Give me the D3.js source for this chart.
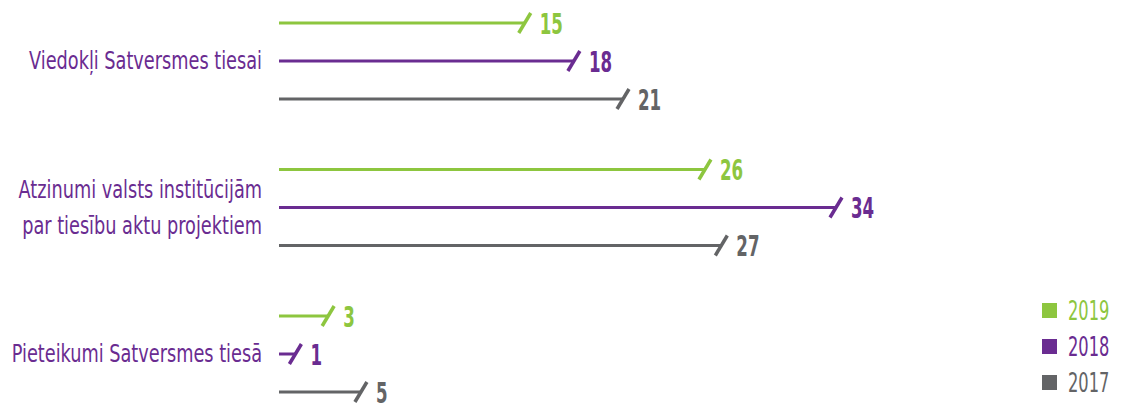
<!DOCTYPE html>
<html>
<head>
<meta charset="utf-8">
<script src="https://cdn.jsdelivr.net/npm/d3@7"></script>
<style>
  body { margin: 0; background: #fff; }
  svg { display: block; }
  text { font-family: "DejaVu Sans Condensed", "DejaVu Sans", sans-serif; }
</style>
</head>
<body>
<svg width="1125" height="403"></svg>
<script>
let categories = [
  ["Viedokļi Satversmes tiesai"],
  ["Atzinumi valsts institūcijām", "par tiesību aktu projektiem"],
  ["Pieteikumi Satversmes tiesā"]
];
let years = ["2019", "2018", "2017"];
let v2019 = [15, 26, 3];
let v2018 = [18, 34, 1];
let v2017 = [21, 27, 5];
let colors = ["#8dc63f", "#6a2c91", "#636466"];

let series = [v2019, v2018, v2017];
let svg = d3.select('svg');

// squeeze text horizontally to mimic a condensed face
function squeeze(sel, f) {
  sel.each(function() {
    let w = this.getComputedTextLength();
    d3.select(this).attr("textLength", w * f).attr("lengthAdjust", "spacingAndGlyphs");
  });
}

let x = d3.scaleLinear().domain([0, 34]).range([279, 836]);
let yGroup = d3.scalePoint().domain(d3.range(categories.length)).range([61, 354]);
let yInner = d3.scalePoint().domain(years).range([-38, 38]);

// category labels
let labelRows = [];
categories.forEach((lines, i) => {
  lines.forEach((ln, j) => {
    labelRows.push({ text: ln, y: yGroup(i) + (j - (lines.length - 1) / 2) * 36 });
  });
});
svg.append("g").selectAll("text").data(labelRows).enter().append("text")
  .attr("x", 262)
  .attr("y", d => d.y + 8)
  .attr("text-anchor", "end")
  .attr("fill", "#6a2c91")
  .style("font-size", "24px")
  .text(d => d.text)
  .call(squeeze, 0.82);

let bars = [];
categories.forEach((c, i) => {
  years.forEach((yr, k) => {
    bars.push({ g: i, year: yr, k: k, value: series[k][i] });
  });
});

let g = svg.append("g");
let item = g.selectAll("g.bar").data(bars).enter().append("g")
  .attr("class", "bar")
  .attr("transform", d => "translate(0," + (yGroup(d.g) + yInner(d.year)) + ")");

item.append("line")
  .attr("x1", x(0))
  .attr("x2", d => x(d.value))
  .attr("y1", 0).attr("y2", 0)
  .attr("stroke", d => colors[d.k])
  .attr("stroke-width", 3);

item.append("line")
  .attr("x1", d => x(d.value) - 6)
  .attr("x2", d => x(d.value) + 6)
  .attr("y1", 10).attr("y2", -10)
  .attr("stroke", d => colors[d.k])
  .attr("stroke-width", 3.5);

item.append("text")
  .attr("x", d => x(d.value) + 15)
  .attr("y", 10.5)
  .attr("fill", d => colors[d.k])
  .style("font-size", "28px")
  .style("font-weight", "bold")
  .text(d => d.value)
  .call(squeeze, 0.66);

// legend
let legend = svg.append("g").selectAll("g").data(years).enter().append("g")
  .attr("transform", (d, i) => "translate(1042," + (303 + i * 36) + ")");
legend.append("rect")
  .attr("width", 15).attr("height", 15)
  .attr("fill", (d, i) => colors[i]);
legend.append("text")
  .attr("x", 26).attr("y", 17)
  .attr("fill", (d, i) => colors[i])
  .style("font-size", "27px")
  .text(d => d)
  .call(squeeze, 0.67);
</script>
</body>
</html>
